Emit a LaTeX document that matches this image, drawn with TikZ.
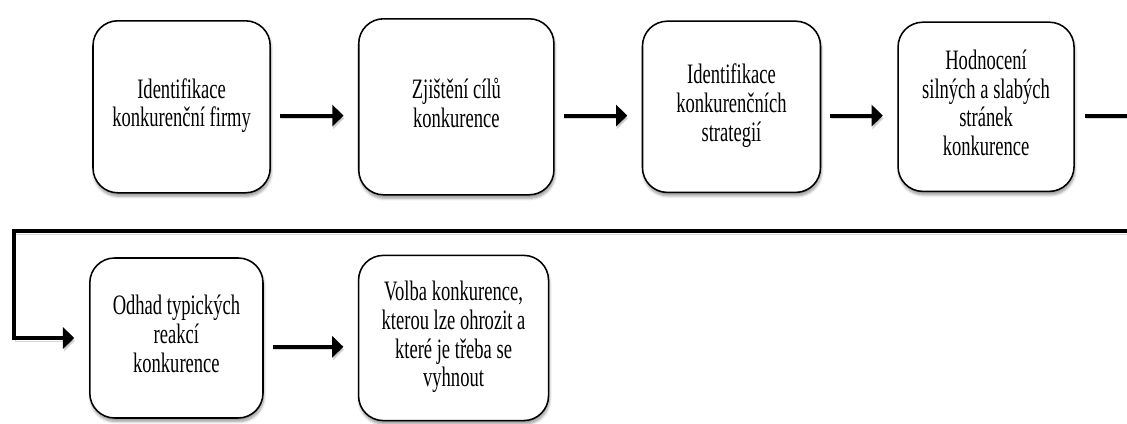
\documentclass[tikz,border=0pt]{standalone}
\usepackage{fontspec}
\setmainfont{Liberation Serif}
\usepackage{tikz}
\usetikzlibrary{arrows.meta,positioning,shadows.blur}
\definecolor{inkblack}{HTML}{000000}
\definecolor{shadowgray}{HTML}{8C8C8C}
\newcommand{\krokfont}{\fontsize{20}{20.5}\selectfont}
\newcommand{\krok}[1]{\scalebox{0.66}[1]{\begin{tabular}{@{}c@{}}#1\end{tabular}}}
\tikzset{
  krokbox/.style={
    rectangle, rounded corners=0.62cm, draw=inkblack, line width=1.1pt,
    fill=white, align=center, inner sep=0pt, font=\krokfont,
    blur shadow={shadow xshift=0.6pt, shadow yshift=-2.5pt, shadow blur steps=6, shadow opacity=40}
  },
  kroklink/.style={line width=2.8pt, color=inkblack,
    preaction={draw=shadowgray, opacity=0.35, transform canvas={xshift=0.6pt, yshift=-2pt}}},
  krokarrow/.style={kroklink, -{Triangle[length=8pt,width=15pt]},
    shorten <=0.22cm, shorten >=0.36cm},
}
\begin{document}
\begin{tikzpicture}[node distance=2.175cm]
  \useasboundingbox (0,0) rectangle (28.175,10.6);
  \clip (0,0) rectangle (28.175,10.6);
  \node[krokbox, minimum width=4.43cm, minimum height=4.3cm] (ident) at (4.54,7.93) {\krok{Identifikace\\konkurenční firmy}};
  \node[krokbox, minimum width=4.88cm, minimum height=4.4cm, right=of ident] (cile) {\krok{Zjištění cílů\\konkurence}};
  \node[krokbox, minimum width=4.45cm, minimum height=4.28cm, right=of cile] (strat) {\krok{Identifikace\\konkurenčních\\strategií}};
  \node[krokbox, minimum width=4.4cm, minimum height=4.23cm, right=1.9cm of strat] (hodnot) {\krok{Hodnocení\\silných a slabých\\stránek\\konkurence}};
  \node[krokbox, minimum width=4.33cm, minimum height=4cm] (odhad) at (4.41,2.15) {\krok{Odhad typických\\reakcí\\konkurence}};
  \node[krokbox, minimum width=4.75cm, minimum height=4.13cm, right=2.35cm of odhad] (volba) {\krok{Volba konkurence,\\kterou lze ohrozit a\\které je třeba se\\vyhnout}};

  \foreach \a/\b in {ident/cile,cile/strat,strat/hodnot,odhad/volba}
    \draw[krokarrow] ([yshift=-0.22cm]\a.east) -- ([yshift=-0.22cm]\b.west);

  % navrat na druhy radek
  \coordinate (zlom) at (28.6,4.825);
  \coordinate (levy) at (0.35,4.825);
  \draw[krokarrow, shorten <=0.25cm, shorten >=0.37cm]
    ([yshift=-0.22cm]hodnot.east) -| (zlom) -- (levy) |- (odhad.west);
\end{tikzpicture}
\end{document}
